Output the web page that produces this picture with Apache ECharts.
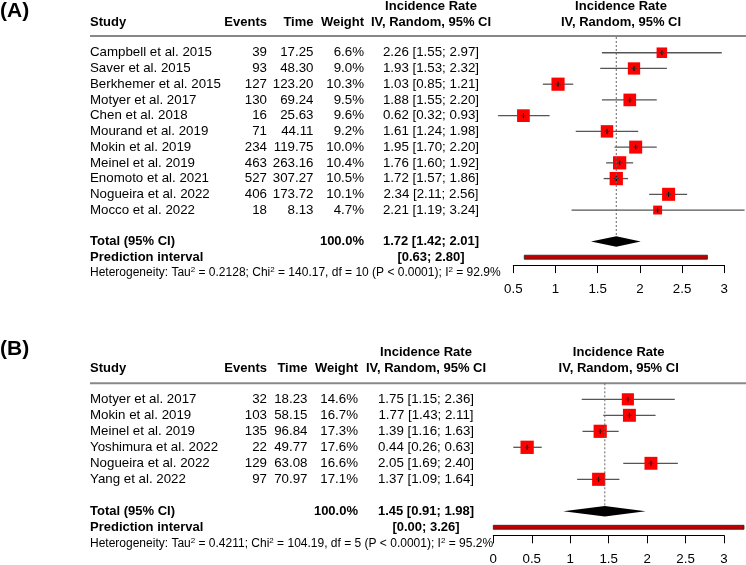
<!DOCTYPE html>
<html>
<head>
<meta charset="utf-8">
<script src="https://cdn.jsdelivr.net/npm/echarts@6/dist/echarts.min.js"></script>
<style>
html, body { margin: 0; padding: 0; background: #fff; }
#chart { width: 746px; height: 565px; }
</style>
</head>
<body>
<div id="chart"></div>
<script>
// panel (A)
let studiesA = ['Campbell et al. 2015', 'Saver et al. 2015', 'Berkhemer et al. 2015', 'Motyer et al. 2017',
    'Chen et al. 2018', 'Mourand et al. 2019', 'Mokin et al. 2019', 'Meinel et al. 2019',
    'Enomoto et al. 2021', 'Nogueira et al. 2022', 'Mocco et al. 2022']
let eventsA = [39, 93, 127, 130, 16, 71, 234, 463, 527, 406, 18]
let timeA = [17.25, 48.30, 123.20, 69.24, 25.63, 44.11, 119.75, 263.16, 307.27, 173.72, 8.13]
let weightA = [6.6, 9.0, 10.3, 9.5, 9.6, 9.2, 10.0, 10.4, 10.5, 10.1, 4.7]
let rateA = [2.26, 1.93, 1.03, 1.88, 0.62, 1.61, 1.95, 1.76, 1.72, 2.34, 2.21]
let lowerA = [1.55, 1.53, 0.85, 1.55, 0.32, 1.24, 1.70, 1.60, 1.57, 2.11, 1.19]
let upperA = [2.97, 2.32, 1.21, 2.20, 0.93, 1.98, 2.20, 1.92, 1.86, 2.56, 3.24]
let totalA = [1.72, 1.42, 2.01]
let predA = [0.63, 2.80]
let hetA = ['0.2128', '140.17', '10', '< 0.0001', '92.9%']
let ticksA = [0.5, 3, 0.5]

// panel (B)
let studiesB = ['Motyer et al. 2017', 'Mokin et al. 2019', 'Meinel et al. 2019', 'Yoshimura et al. 2022',
    'Nogueira et al. 2022', 'Yang et al. 2022']
let eventsB = [32, 103, 135, 22, 129, 97]
let timeB = [18.23, 58.15, 96.84, 49.77, 63.08, 70.97]
let weightB = [14.6, 16.7, 17.3, 17.6, 16.6, 17.1]
let rateB = [1.75, 1.77, 1.39, 0.44, 2.05, 1.37]
let lowerB = [1.15, 1.43, 1.16, 0.26, 1.69, 1.09]
let upperB = [2.36, 2.11, 1.63, 0.63, 2.40, 1.64]
let totalB = [1.45, 0.91, 1.98]
let predB = [0.00, 3.26]
let hetB = ['0.4211', '104.19', '5', '< 0.0001', '95.2%']
let ticksB = [0, 3, 0.5]

let font = 'Liberation Sans, Arial, sans-serif'
let maxSide = 13.3

let panels = [
    { label: '(A)', labelY: 11, studies: studiesA, events: eventsA, time: timeA, weight: weightA,
      rate: rateA, lower: lowerA, upper: upperA, total: totalA, pred: predA, het: hetA, ticks: ticksA,
      top: 37, rowH: 15.73, left: 513.3, width: 211, head1: 6.5, head2: 22.3, lineY: 36,
      cEvents: 267, cTime: 313.5, cWeight: 364, cCI: 431, cPlot: 621 },
    { label: '(B)', labelY: 349, studies: studiesB, events: eventsB, time: timeB, weight: weightB,
      rate: rateB, lower: lowerB, upper: upperB, total: totalB, pred: predB, het: hetB, ticks: ticksB,
      top: 383.3, rowH: 16, left: 493.3, width: 230.7, head1: 352.7, head2: 368.8, lineY: 383.3,
      cEvents: 267, cTime: 307.5, cWeight: 358, cCI: 426, cPlot: 618.7 }
]

function txt(text, x, y, align, extra) {
    return {
        type: 'text', x: x, y: y, silent: true,
        style: Object.assign({ legacy: false, text: text, align: align, verticalAlign: 'middle',
            fill: '#000', fontSize: 13.3, fontFamily: font }, extra || {})
    }
}
function bold(text, x, y, align) {
    return txt(text, x, y, align, { fontWeight: 'bold', fontSize: 13 })
}
function ci(r, lo, hi) {
    return r.toFixed(2) + ' [' + lo.toFixed(2) + '; ' + hi.toFixed(2) + ']'
}

let grids = [], xAxes = [], yAxes = [], series = [], graphics = []

panels.forEach(function (p, k) {
    let n = p.studies.length
    let wmax = Math.max.apply(null, p.weight)
    grids.push({ left: p.left, top: p.top, width: p.width, height: (n + 3.5) * p.rowH,
        outerBoundsMode: 'none', containLabel: false })
    xAxes.push({
        type: 'value', gridIndex: k, min: p.ticks[0], max: p.ticks[1], interval: p.ticks[2],
        position: 'bottom', splitLine: { show: false },
        axisLine: { show: true, onZero: false, lineStyle: { color: '#000', width: 1 } },
        axisTick: { show: true, length: 8, lineStyle: { color: '#000', width: 1 } },
        axisLabel: { color: '#000', fontSize: 13.3, fontFamily: font, margin: 17.5,
            showMinLabel: true, showMaxLabel: true }
    })
    yAxes.push({ type: 'value', gridIndex: k, min: -1, max: n + 2.5, inverse: true, show: false })

    // study rows
    series.push({
        type: 'custom', xAxisIndex: k, yAxisIndex: k, clip: false, silent: true,
        data: p.rate.map(function (r, i) { return [i, r, p.lower[i], p.upper[i], p.weight[i]] }),
        renderItem: function (params, api) {
            let i = api.value(0)
            let c = api.coord([api.value(1), i])
            let lo = api.coord([api.value(2), i])
            let hi = api.coord([api.value(3), i])
            let s = maxSide * Math.sqrt(api.value(4) / wmax)
            let y = c[1]
            let d = params.dataIndex
            return {
                type: 'group', children: [
                    { type: 'line', shape: { x1: lo[0], y1: y, x2: hi[0], y2: y },
                      style: { stroke: '#555', lineWidth: 1.3 } },
                    { type: 'rect', shape: { x: c[0] - s / 2, y: y - s / 2, width: s, height: s },
                      style: { fill: '#ff0000' } },
                    { type: 'line', shape: { x1: c[0], y1: y - 2.5, x2: c[0], y2: y + 2.5 },
                      style: { stroke: '#000', lineWidth: 1 } },
                    { type: 'line', shape: { x1: c[0] - 2.5, y1: y, x2: c[0] + 2.5, y2: y },
                      style: { stroke: '#333', lineWidth: 1 } },
                    txt(p.studies[d], 90, y, 'left'),
                    txt(String(p.events[d]), p.cEvents, y, 'right'),
                    txt(p.time[d].toFixed(2), p.cTime, y, 'right'),
                    txt(p.weight[d].toFixed(1) + '%', p.cWeight, y, 'right'),
                    txt(ci(p.rate[d], p.lower[d], p.upper[d]), p.cCI, y, 'center')
                ]
            }
        }
    })

    // pooled estimate, prediction interval, heterogeneity
    series.push({
        type: 'custom', xAxisIndex: k, yAxisIndex: k, clip: false, silent: true,
        data: [[n + 1, p.total[0], p.total[1], p.total[2], p.pred[0], p.pred[1]]],
        renderItem: function (params, api) {
            let row = api.value(0)
            let est = api.coord([api.value(1), row])
            let lo = api.coord([api.value(2), row])
            let hi = api.coord([api.value(3), row])
            let top = api.coord([api.value(1), -1])
            let pl = api.coord([api.value(4), row + 1])
            let ph = api.coord([api.value(5), row + 1])
            let hy = api.coord([api.value(1), row + 2])[1]
            let y = est[1], h = 5.3
            let het = 'Heterogeneity: Tau{s|2} = ' + p.het[0] + '; Chi{s|2} = ' + p.het[1] +
                ', df = ' + p.het[2] + ' (P ' + p.het[3] + '); I{s|2} = ' + p.het[4]
            return {
                type: 'group', children: [
                    { type: 'line', shape: { x1: est[0], y1: top[1], x2: est[0], y2: y - h },
                      style: { stroke: '#666', lineWidth: 1, lineDash: [2, 2] } },
                    { type: 'polygon', shape: { points: [[lo[0], y], [est[0], y - h], [hi[0], y], [est[0], y + h]] },
                      style: { fill: '#000' } },
                    { type: 'rect', shape: { x: pl[0], y: pl[1] - 2, width: ph[0] - pl[0], height: 4 },
                      style: { fill: '#c00000', stroke: '#222', lineWidth: 0.8 } },
                    bold('Total (95% CI)', 90, y, 'left'),
                    bold('100.0%', p.cWeight, y, 'right'),
                    bold(ci(api.value(1), api.value(2), api.value(3)), p.cCI, y, 'center'),
                    bold('Prediction interval', 90, pl[1], 'left'),
                    bold('[' + api.value(4).toFixed(2) + '; ' + api.value(5).toFixed(2) + ']', p.cCI, pl[1], 'center'),
                    txt(het, 90, hy, 'left', { fontSize: 12, lineHeight: 14,
                        rich: { s: { fontSize: 8, fontFamily: font, verticalAlign: 'top', lineHeight: 14 } } })
                ]
            }
        }
    })

    // headers
    graphics.push(
        { type: 'text', x: 0, y: p.labelY, silent: true,
          style: { legacy: false, text: p.label, verticalAlign: 'middle', fill: '#000',
                   fontSize: 21, fontWeight: 'bold', fontFamily: font } },
        bold('Study', 90, p.head2, 'left'),
        bold('Events', p.cEvents, p.head2, 'right'),
        bold('Time', p.cTime, p.head2, 'right'),
        bold('Weight', p.cWeight, p.head2, 'right'),
        bold('Incidence Rate', p.cCI, p.head1, 'center'),
        bold('IV, Random, 95% CI', p.cCI, p.head2, 'center'),
        bold('Incidence Rate', p.cPlot, p.head1, 'center'),
        bold('IV, Random, 95% CI', p.cPlot, p.head2, 'center'),
        { type: 'line', silent: true, shape: { x1: 90, y1: p.lineY, x2: 746, y2: p.lineY },
          style: { stroke: '#888', lineWidth: 2 } }
    )
})

let myChart = echarts.init(document.getElementById('chart'))
myChart.setOption({
    animation: false,
    backgroundColor: '#fff',
    grid: grids,
    xAxis: xAxes,
    yAxis: yAxes,
    series: series,
    graphic: graphics
})
</script>
</body>
</html>
